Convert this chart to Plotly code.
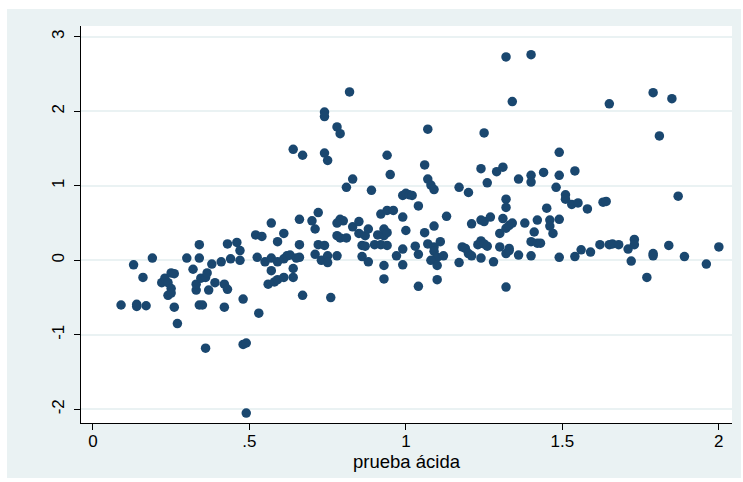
import plotly.graph_objects as go

# prueba ácida (x) vs. residual-like value (y)
prueba_acida = [
    0.09, 0.13, 0.14, 0.14, 0.16, 0.17, 0.19, 0.22, 0.23, 0.24,
    0.24, 0.25, 0.25, 0.25, 0.26, 0.26, 0.27, 0.30, 0.32, 0.33,
    0.33, 0.34, 0.34, 0.34, 0.345, 0.35, 0.36, 0.36, 0.365, 0.37,
    0.38, 0.39, 0.41, 0.42, 0.42, 0.43, 0.43, 0.44, 0.46, 0.47,
    0.47, 0.48, 0.48, 0.49, 0.49, 0.52, 0.525, 0.53,
    0.54, 0.55, 0.56, 0.57, 0.57, 0.57, 0.58, 0.59, 0.59, 0.59,
    0.61, 0.61, 0.61, 0.62, 0.63, 0.64, 0.64, 0.64, 0.65, 0.66,
    0.66, 0.66, 0.67, 0.67, 0.70, 0.71, 0.71, 0.72, 0.72, 0.73,
    0.74, 0.74, 0.74, 0.74, 0.75, 0.75, 0.75, 0.76, 0.78, 0.78,
    0.78, 0.79, 0.79, 0.80, 0.78, 0.79, 0.81, 0.81, 0.82, 0.83,
    0.83, 0.85, 0.85, 0.86, 0.86, 0.87, 0.87, 0.88, 0.88, 0.89,
    0.90, 0.91, 0.92, 0.92, 0.93, 0.93, 0.93, 0.93, 0.94, 0.94,
    0.94, 0.94, 0.95, 0.96, 0.97, 0.99, 1.00, 1.01, 1.02, 0.99,
    0.99, 0.99, 1.00, 1.03, 1.04, 1.04, 1.04,
    1.06, 1.07, 1.07, 1.08, 1.09, 1.09, 1.06, 1.07, 1.09, 1.09,
    1.10, 1.11, 1.08, 1.10, 1.10, 1.12, 1.13, 1.17, 1.17, 1.18,
    1.19, 1.20, 1.21, 1.20, 1.21, 1.23, 1.24, 1.24, 1.24, 1.24,
    1.25, 1.25, 1.25, 1.26, 1.26, 1.27, 1.28, 1.29, 1.30, 1.30,
    1.31, 1.31, 1.32, 1.32, 1.32, 1.32, 1.32, 1.33, 1.33, 1.33,
    1.34, 1.36, 1.36, 1.38, 1.40, 1.40, 1.40, 1.40, 1.41, 1.42,
    1.42, 1.43, 1.44, 1.45, 1.46, 1.46, 1.47, 1.48, 1.49, 1.49,
    1.49, 1.49, 1.51, 1.51, 1.53, 1.55, 1.54, 1.54, 1.56,
    1.32, 1.40, 1.34,
    1.58, 1.63, 1.64, 1.65, 1.79, 1.85, 1.81, 1.87, 1.59, 1.62,
    1.65, 1.66, 1.68, 1.71, 1.73, 1.73, 1.72, 1.77, 1.79, 1.79,
    1.84, 1.89, 1.96, 2.00,
]
residuo = [
    -0.60, -0.06, -0.59, -0.62, -0.23, -0.61, 0.03, -0.30, -0.24, -0.47,
    -0.30, -0.38, -0.17, -0.44, -0.18, -0.63, -0.85, 0.03, -0.12, -0.40,
    -0.32, 0.21, 0.03, -0.60, -0.24, -0.60, -0.23, -1.18, -0.17, -0.40,
    -0.05, -0.30, -0.02, -0.63, -0.32, 0.22, -0.39, 0.02, 0.24, 0.13,
    0.00, -0.52, -1.13, -1.11, -2.05, 0.34, 0.04, -0.71,
    0.32, -0.02, -0.32, 0.50, -0.14, 0.03, -0.29, 0.25, -0.02, -0.26,
    0.36, 0.02, -0.23, 0.06, 0.07, -0.11, -0.23, 1.49, 0.03, 0.55,
    0.21, 0.04, 1.41, -0.47, 0.53, 0.42, 0.08, 0.21, 0.64, 0.00,
    1.99, 1.93, 1.44, 0.20, 0.06, 1.34, -0.03, -0.50, 0.33, 0.06,
    1.79, 1.70, 0.55, 0.53, 0.50, 0.30, 0.30, 0.98, 2.26, 1.09,
    0.45, 0.52, 0.36, 0.20, 0.05, 0.33, 0.19, 0.42, -0.02, 0.94,
    0.21, 0.34, 0.62, 0.21, 0.33, 0.42, -0.07, -0.25, 0.67, 0.37,
    0.20, 1.41, 1.15, 0.67, 0.06, 0.87, 0.90, 0.88, 0.87, 0.58,
    0.15, -0.06, 0.40, 0.19, 0.73, 0.08, -0.35,
    1.28, 1.76, 1.09, 1.01, 0.95, 0.46, 0.37, 0.22, 0.18, 0.12,
    0.04, 0.25, 0.00, -0.07, -0.26, 0.06, 0.59, 0.98, -0.03, 0.18,
    0.16, 0.09, 0.06, 0.91, 0.49, 0.21, 0.26, 1.23, 0.54, 0.03,
    0.22, 1.71, 0.52, 1.04, 0.19, 0.58, -0.02, 1.19, 0.36, 0.18,
    1.25, 0.56, 0.82, 0.71, 0.09, -0.36, 0.43, 0.16, 0.47, 0.13,
    0.50, 1.09, 0.07, 0.50, 1.14, 1.05, 0.25, 0.06, 0.38, 0.23,
    0.54, 0.23, 1.18, 0.70, 0.54, 0.46, 0.36, 0.98, 1.45, 1.14,
    0.55, 0.04, 0.88, 0.82, 0.75, 0.77, 1.20, 0.05, 0.14,
    2.73, 2.76, 2.13,
    0.69, 0.78, 0.79, 2.10, 2.25, 2.17, 1.67, 0.86, 0.11, 0.21,
    0.21, 0.22, 0.21, 0.15, 0.28, 0.21, -0.01, -0.23, 0.09, 0.06,
    0.20, 0.05, -0.05, 0.18,
]

x_ticks = [0, 0.5, 1, 1.5, 2]
x_tick_labels = ["0", ".5", "1", "1.5", "2"]
y_ticks = [-2, -1, 0, 1, 2, 3]
y_tick_labels = ["-2", "-1", "0", "1", "2", "3"]
x_title = "prueba ácida"

W, H = 743, 482
L, R, T, B = 81, 11, 26, 59
pw, ph = W - L - R, H - T - B

def px(v):
    return (v - L) / pw

def py(v):
    return 1 - (v - T) / ph

navy = "#1a476f"
light = "#eaf2f3"
font = "Liberation Sans, Arial, sans-serif"

fig = go.Figure()
fig.add_trace(go.Scatter(
    x=prueba_acida, y=residuo, mode="markers",
    marker=dict(color=navy, size=9.5, line=dict(width=0)),
    hoverinfo="x+y", showlegend=False,
))

fig.update_layout(
    width=W, height=H,
    margin=dict(l=L, r=R, t=T, b=B, pad=0),
    paper_bgcolor="white",
    plot_bgcolor="rgba(0,0,0,0)",
    font=dict(family=font, size=17, color="black"),
    shapes=[
        dict(type="rect", xref="paper", yref="paper", layer="below",
             x0=px(7), x1=px(741), y0=py(478), y1=py(9),
             fillcolor=light, line=dict(width=0)),
        dict(type="rect", xref="paper", yref="paper", layer="below",
             x0=0, x1=1, y0=0, y1=1,
             fillcolor="white", line=dict(width=0)),
    ],
    xaxis=dict(
        range=[-0.038, 2.042], tickvals=x_ticks, ticktext=x_tick_labels,
        showgrid=False, zeroline=False, showline=True, linecolor="#000000",
        linewidth=1, ticks="outside", ticklen=6, tickcolor="#000000",
        tickfont=dict(size=17), ticklabelstandoff=-3,
        title=dict(text=x_title, font=dict(size=18.5), standoff=1),
    ),
    yaxis=dict(
        range=[-2.184, 3.145], tickvals=y_ticks, ticktext=y_tick_labels,
        showgrid=True, gridcolor=light, gridwidth=2, zeroline=False,
        showline=True, linecolor="#000000", linewidth=1,
        ticks="outside", ticklen=6, tickcolor="#000000",
        tickangle=-90, tickfont=dict(size=17), ticklabelstandoff=3,
    ),
)

fig.write_html(
    "out.html",
    config={"displayModeBar": False},
    post_script="document.body.style.margin='0';document.body.style.padding='0';",
)
